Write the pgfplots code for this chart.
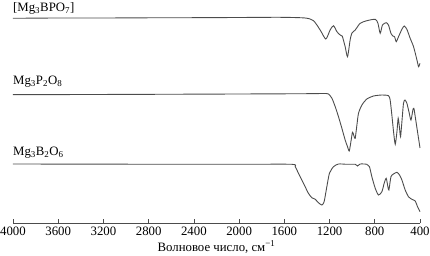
\documentclass[border=0pt]{standalone}
\usepackage{fontspec}
\setmainfont{Liberation Serif}
\usepackage{pgfplots}
\pgfplotsset{compat=1.18}
\begin{document}
\fontsize{12}{14}\selectfont
\begin{tikzpicture}
\begin{axis}[
  scale only axis, width=407pt, height=218pt,
  xmin=400, xmax=4000, ymin=0, ymax=218,
  x dir=reverse,
  axis y line=none, axis x line*=bottom,
  xtick={400,800,...,4000},
  tick align=inside, major tick length=4pt,
  ytick=\empty,
  axis line style={black!70, line width=0.7pt},
  tick style={black!70, line width=0.7pt},
  /pgf/number format/assume math mode=true,
  /pgf/number format/1000 sep={},
  xticklabel style={font=\fontsize{12.8}{14}\selectfont},
  xlabel={Волновое число, см\textsuperscript{−1}},
  xlabel style={font=\fontsize{12.8}{14}\selectfont, yshift=3pt},
  clip=false,
]
\addplot[line width=0.9pt, color=black!70, no markers, smooth, tension=0.4] coordinates {
(4000,204.7) (3600,205) (3200,205) (2800,205.2) (2400,205.3) (2000,205.5) (1637,205.7)
(1416,205) (1342,202.3) (1283,193) (1233,184) (1195,193) (1165,197.3) (1135,191.3)
(1106,188) (1088,187) (1062,176.3) (1041,166.3) (1018,183) (1003,189.7) (973,193)
(929,199.7) (870,202.3) (796,203.7) (772,199.7) (752,189.7) (732,198) (699,200.3)
(679,198) (657,189.7) (640,187) (625,186.3) (610,181.3) (590,186.3) (560,193.7)
(540,197) (516,193.7) (487,184.7) (457,176.3) (427,163) (413,156.3) (405,158) (400,159.7)
};
\addplot[line width=0.9pt, color=black!70, no markers, smooth, tension=0.4] coordinates {
(4000,128.3) (3000,128.6) (2000,129) (1400,129.3) (1250,129.5) (1210,129) (1179,124.7)
(1150,116.3) (1121,106.3) (1091,94.7) (1062,83) (1041,76.3) (1026,72) (1011,81.3)
(997,90.7) (982,86.3) (973,84.7) (958,98) (944,109.7) (914,118) (870,124) (811,127)
(737,128) (679,127.3) (664,123) (649,108) (634,91.3) (619,78.7) (604,91.3) (593,104.7)
(581,94.7) (572,86.3) (560,101.3) (546,119.7) (533,123) (516,119.7) (498,111.3)
(480,103) (463,113) (454,114.7) (440,104.7) (422,91.3) (404,78) (400,75)
};
\addplot[line width=0.9pt, color=black!70, no markers, smooth, tension=0.4] coordinates {
(4000,59) (3000,58.8) (2000,58.7) (1534,58.7) (1504,56.3) (1475,49.7) (1445,43)
(1416,36.3) (1387,29.7) (1357,25.3) (1327,23.7) (1298,20.3) (1268,18) (1248,21.3)
(1224,36.3) (1201,49.7) (1165,56.3) (1121,59) (1047,58.7) (973,58.7) (953,57) (929,59)
(870,58.7) (847,56.3) (826,46.3) (796,34.7) (767,28) (737,31.3) (717,39.7) (699,44.7)
(684,36.3) (675,33) (657,46.3) (634,49) (604,50.7) (581,48) (560,43) (531,33)
(502,26.3) (472,23.7) (442,22) (422,16.3) (400,11.3)
};
\node[anchor=base west, inner sep=0pt, font=\fontsize{12.8}{14}\selectfont] at (axis cs:4000,211) {[Mg\textsubscript{3}BPO\textsubscript{7}]};
\node[anchor=base west, inner sep=0pt, font=\fontsize{12.8}{14}\selectfont] at (axis cs:4000,138) {Mg\textsubscript{3}P\textsubscript{2}O\textsubscript{8}};
\node[anchor=base west, inner sep=0pt, font=\fontsize{12.8}{14}\selectfont] at (axis cs:4000,67.5) {Mg\textsubscript{3}B\textsubscript{2}O\textsubscript{6}};
\end{axis}
\pgfresetboundingbox
\path[use as bounding box] ([shift={(-13pt,-33pt)}]current axis.south west) rectangle ([shift={(10pt,5pt)}]current axis.north east);
\end{tikzpicture}
\end{document}
